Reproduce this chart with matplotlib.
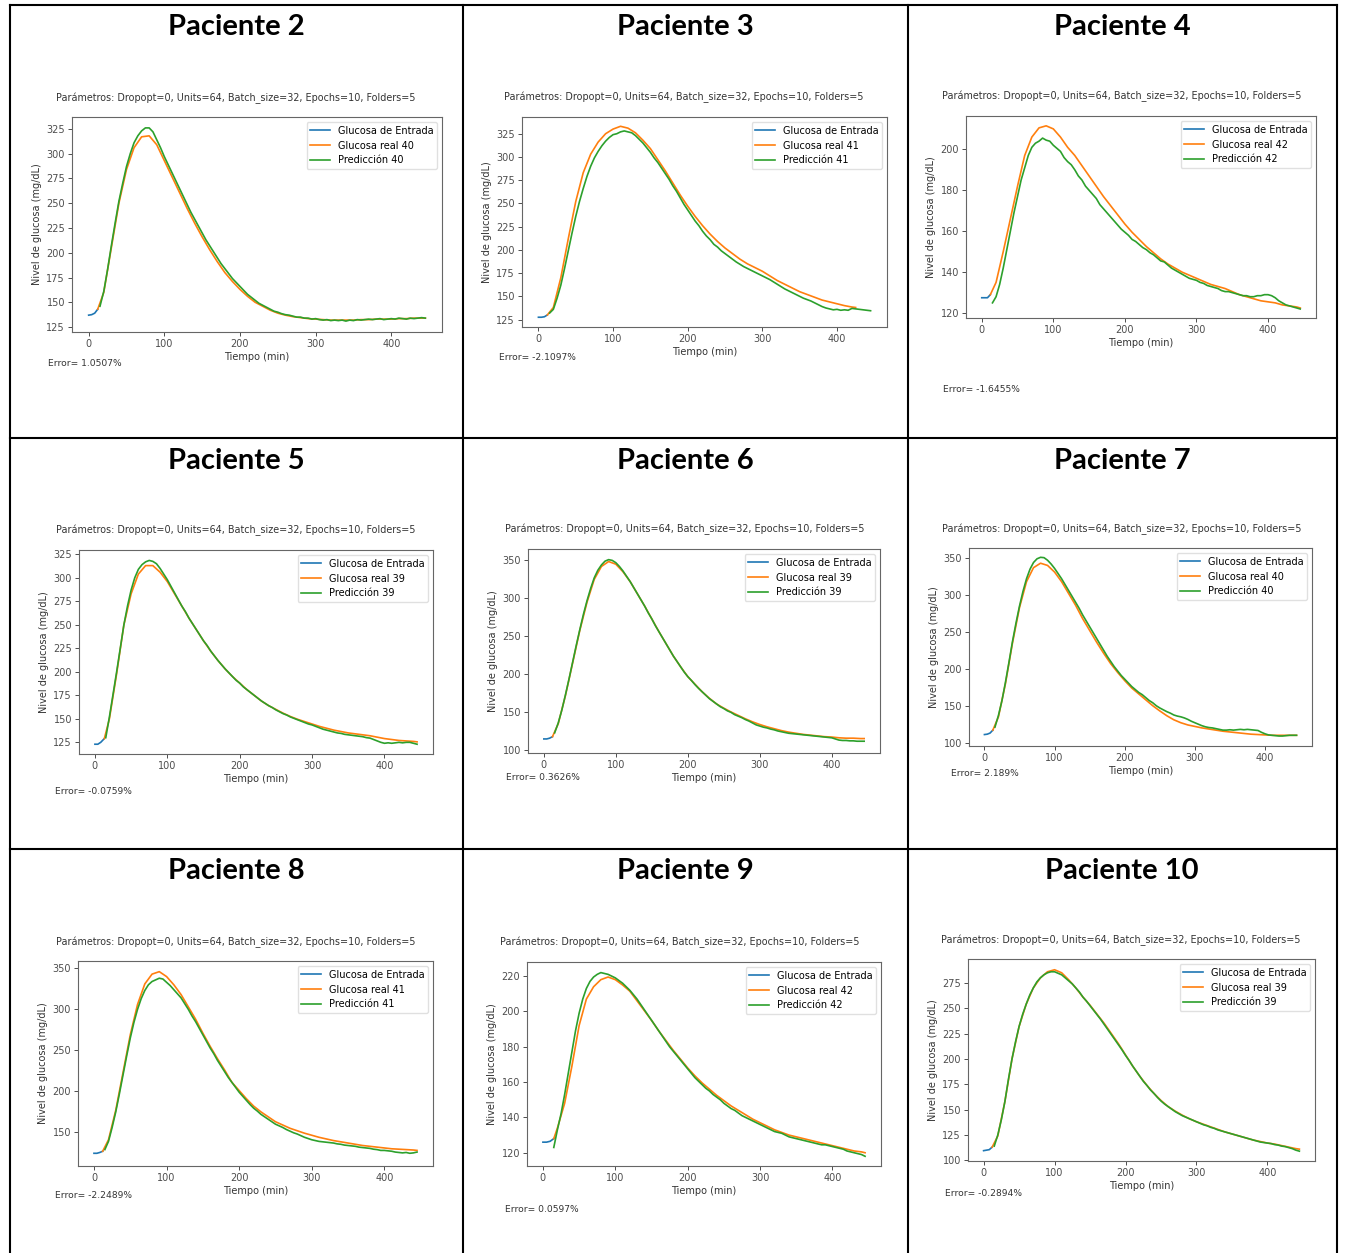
import numpy as np
import matplotlib.pyplot as plt
import matplotlib.ticker as ticker
from matplotlib.lines import Line2D

W, H = 1345, 1253

# ---------------- data (mg/dL) ----------------
patients = ["Paciente 2", "Paciente 3", "Paciente 4",
            "Paciente 5", "Paciente 6", "Paciente 7",
            "Paciente 8", "Paciente 9", "Paciente 10"]
series_ids = [40, 41, 42, 39, 39, 40, 41, 42, 39]
errors = ["1.0507%", "-2.1097%", "-1.6455%",
          "-0.0759%", "0.3626%", "2.189%",
          "-2.2489%", "0.0597%", "-0.2894%"]
params = "Parámetros: Dropopt=0, Units=64, Batch_size=32, Epochs=10, Folders=5"

# input glucose (blue), short segment at the start
in_t = [[0, 4, 8, 12], [0, 4, 8, 12], [0, 4, 8, 12],
        [0, 4, 8, 13], [0, 4, 8, 12], [0, 4, 8, 12],
        [0, 4, 8, 12], [0, 5, 10, 15], [0, 4, 8, 12]]
in_p2 = [137, 137.5, 139, 143]
in_p3 = [127.5, 127.5, 128, 130]
in_p4 = [127.5, 127.5, 127.5, 129]
in_p5 = [123, 123, 125, 129]
in_p6 = [115, 115, 116, 118]
in_p7 = [111, 111.5, 113, 117]
in_p8 = [123.5, 123.5, 124.5, 126]
in_p9 = [126, 126, 126.5, 128]
in_p10 = [109.5, 110, 110.5, 113]

# real glucose (orange): start, then every 10 min from 20, then the end point
real_start = [12, 12, 12, 13, 12, 12, 12, 15, 12]
real_end = [445, 425, 445, 445, 445, 445, 445, 445, 445]
real_p2 = [143,
           160, 205, 250, 284, 306, 317, 318, 309, 293, 277,
           261, 245, 230, 216, 203, 191, 180, 171, 163, 156,
           150, 146, 142, 139, 137, 135.5, 134.5, 133.5, 133, 132.5,
           132, 132, 132, 132, 132.5, 132.5, 133, 133, 133, 133.5,
           133.5, 134, 134, 134]
real_p3 = [130,
           138, 170, 212, 252, 283, 303, 316, 325, 330, 333,
           331, 326, 318, 309, 297, 285, 272, 259, 247, 236,
           226, 217, 209, 202, 196, 190, 185, 181, 177, 172,
           167, 163, 159, 155, 152, 149, 146, 144, 142, 140,
           138.5, 138]
real_p4 = [129,
           135, 150, 166, 182, 197, 206, 210.5, 211.5, 210, 206,
           201, 197, 192, 187, 182, 177, 172.5, 168, 163.5, 159.5,
           156, 152.5, 149.5, 146.5, 144, 142, 140, 138.5, 137, 135.5,
           134, 133, 132, 130.5, 129, 128, 127, 126, 125.5, 125,
           124, 123.5, 123, 122.5]
real_p5 = [129,
           150, 198, 250, 283, 304, 313, 313, 306, 296, 283,
           270, 257, 245, 233, 222, 212, 203, 195, 188, 181,
           175, 169, 164, 160, 156, 152.5, 149.5, 147, 144.5, 142,
           140, 138, 136.5, 135, 134, 133, 132, 130.5, 129, 128,
           127, 126.5, 126, 125.5]
real_p6 = [118,
           135, 172, 215, 258, 295, 325, 342, 348.5, 345, 335,
           322, 306, 290, 273, 256, 240, 224, 210, 197, 187,
           177, 168.5, 161, 155.5, 150.5, 146, 141.5, 137.5, 134, 131,
           128.5, 126, 124, 122.5, 121, 120, 119, 118, 117.5, 116.5,
           116, 116, 115.5, 115.5]
real_p7 = [117,
           135, 180, 235, 283, 318, 337, 343, 340, 331, 318,
           302, 286, 268, 252, 236, 221, 207, 195, 184, 174,
           166, 158, 150, 143, 136.5, 131, 127, 124, 122, 120,
           118.5, 117, 115.5, 114.5, 113.5, 112.5, 111.5, 111, 110.5, 110,
           110, 110, 110, 110]
real_p8 = [126,
           140, 176, 222, 268, 305, 330, 342, 345, 339, 329,
           317, 302, 287, 270, 254, 239, 225, 210, 200, 190,
           181, 174, 168, 162, 158, 154, 151, 148, 145.5, 143,
           141, 139, 137.5, 136, 134.5, 133, 132, 131, 130, 129,
           128.5, 128, 127.5, 127]
real_p9 = [128,
           134, 148, 169, 192, 207, 214, 218, 219.5, 218, 215,
           211.5, 206, 200.5, 195, 189, 183.5, 178, 173, 168, 163.5,
           159.5, 156, 152.5, 149.5, 146.5, 144, 141.5, 139, 137, 135,
           133, 131.5, 130, 129, 128, 127, 126, 125, 124, 123,
           122, 121, 120.5, 120]
real_p10 = [113,
            124, 158, 200, 232, 254, 270, 280, 286, 288, 285,
            278, 270, 261, 253, 244, 235, 225, 215, 204, 193,
            183, 174, 166, 159, 153, 148.5, 144.5, 141, 138, 135.5,
            133, 130.5, 128, 126, 124, 122, 120, 118.5, 117, 116,
            114.5, 113, 111.5, 111]

# prediction (green): every 5 min from 15 to 445
pred_t = np.arange(15, 446, 5)
pred_p2 = [146, 161, 183, 207, 230, 252, 270, 287, 300, 311,
           318, 323, 326, 326, 322, 314, 306, 297, 289, 281,
           273, 265, 257, 249, 241, 234, 227, 220, 213, 207,
           201, 195, 189, 184, 179, 174, 170, 166, 162, 158,
           155, 152, 149, 147, 145, 143, 141, 140, 138.5, 137.5,
           137, 136, 135, 135, 134, 134, 133, 133.5, 132.5, 132,
           132.5, 131.5, 132, 131.5, 132, 131, 132, 131.5, 132.5, 132,
           132.5, 133, 132.5, 133, 133.5, 132.5, 133, 133.5, 133, 134,
           133.5, 133, 134, 133.5, 134, 134.5, 134]
pred_p3 = [132, 136, 148, 162, 180, 199, 218, 236, 252, 266,
           279, 290, 299, 306, 312, 317, 321, 324, 325, 327,
           328, 327, 326, 323, 319, 315, 310, 305, 299, 294,
           288, 282, 276, 269, 263, 256, 249, 243, 237, 231,
           226, 220, 215, 211, 206, 203, 199, 196, 193, 190,
           187, 184.5, 182, 180, 178, 176, 174, 172, 170, 168,
           165.5, 163, 160.5, 158, 156, 154, 152, 150, 148, 146.5,
           145, 143, 141, 139, 137.5, 136.5, 135.5, 136, 135, 135.5,
           135, 137, 136.5, 136, 135.5, 135, 134.5]
pred_p4 = [125, 128, 134, 142, 151, 160, 169, 177, 185, 191,
           197, 201, 203, 204, 205.5, 204.5, 204, 202, 200.5, 199,
           196, 194, 192.5, 190, 187, 185, 182, 180, 178, 176,
           173, 171, 169, 167, 165, 163, 161, 159.5, 158, 156,
           155, 153.5, 152, 151, 149.5, 148.5, 147, 145.5, 145, 143.5,
           142, 141, 140, 139, 138, 137, 136.5, 136, 135, 134.5,
           133.5, 133, 132.5, 132, 131, 130.5, 130.5, 130, 129.5, 129,
           128.5, 128.5, 128, 128, 128.5, 128.5, 129, 129, 128.5, 127.5,
           126, 125, 124, 123.5, 123, 122.5, 122]
pred_p5 = [130, 152, 176, 200, 225, 250, 270, 287, 300, 309,
           314, 317, 318.5, 317.5, 315, 310, 304, 298, 291, 284,
           277, 270, 264, 257, 251, 245, 239, 233, 228, 222,
           217, 212, 207.5, 203, 199, 195, 191, 188, 184, 181,
           178, 175, 172, 169, 166.5, 164, 162, 159.5, 157.5, 155.5,
           154, 152, 150.5, 149, 147.5, 146, 144.5, 143.5, 142, 140.5,
           139, 138, 137, 136, 135, 134.5, 133.5, 133, 132.5, 132,
           131.5, 131, 130, 129.5, 128, 126.5, 125, 124, 124.5, 124,
           124.5, 125, 124.5, 125, 125, 124, 123]
pred_p6 = [123, 136, 153, 173, 194, 216, 238, 259, 279, 297,
           313, 327, 337, 344, 349, 351, 350, 347, 342, 336,
           329, 322, 314, 306, 298, 290, 281, 273, 264, 256,
           248, 240, 232, 224, 217, 210, 203, 197, 192, 186.5,
           181.5, 177, 172.5, 168, 164.5, 161, 157.5, 155, 152, 150,
           147, 145, 143, 140.5, 138.5, 136, 133.5, 132, 130.5, 129.5,
           128, 127, 125.5, 124.5, 123.5, 122.5, 122, 121.5, 121, 120.5,
           120, 119.5, 119, 118.5, 118, 117.5, 117, 116.5, 115, 113.5,
           113, 113, 112.5, 112.5, 112, 112, 112]
pred_p7 = [121, 137, 157, 182, 209, 237, 262, 285, 305, 322,
           335, 344, 349, 351, 350.5, 347, 342, 336, 329, 322,
           314, 306, 298, 290, 282, 273, 265, 257, 249, 241,
           233, 225, 217, 210, 203, 197, 191, 186, 181, 176,
           172, 168, 165, 161, 157, 154, 150, 147, 144.5, 142,
           140, 137.5, 136, 135, 133.5, 131.5, 129, 127, 125, 123,
           121.5, 120.5, 120, 119, 118, 117, 117, 117.5, 117, 117.5,
           118, 117.5, 118, 117.5, 117, 116.5, 114, 112, 110.5, 110,
           109.5, 109, 109, 109.5, 110, 110, 110]
pred_p8 = [128, 138, 155, 174, 196, 219, 242, 264, 283, 299,
           312, 322, 329, 333, 335, 337, 336, 332, 328, 323,
           318, 313, 306, 299, 291, 284, 276, 268, 260, 252,
           245, 237, 230, 223, 216, 210, 204, 198, 193, 188,
           183, 178.5, 175, 171, 168, 165, 162, 159, 157, 155,
           152.5, 150.5, 148.5, 147, 145, 143, 141.5, 140, 139, 138,
           137.5, 137, 136.5, 136, 135, 134.5, 133.5, 133, 132.5, 132,
           131, 130.5, 130, 129.5, 128.5, 128, 127, 127, 126.5, 126,
           125, 124.5, 124, 124.5, 123.5, 124, 125]
pred_p9 = [123, 133, 142, 153, 165, 177, 189, 199, 207, 213,
           217, 219.5, 221, 222, 221.5, 221, 220, 219, 217.5, 216,
           214, 212, 209.5, 207, 204, 201, 198, 195, 192, 189,
           186, 183, 180, 177.5, 175, 172.5, 170, 167.5, 165, 162.5,
           160.5, 158.5, 156.5, 155, 153, 151.5, 150, 148, 146.5, 145,
           144, 142.5, 141, 140, 139, 138, 137, 136, 135, 134,
           133, 132, 131.5, 131, 130, 129, 128.5, 128, 127.5, 127,
           126.5, 126, 125.5, 125, 124.5, 124.5, 124, 123.5, 123, 122.5,
           122, 121, 120.5, 120, 119.5, 119, 118]
pred_p10 = [114, 125, 140, 158, 180, 200, 217, 232, 244, 254,
            263, 270, 276, 280, 283, 285, 286, 286, 284.5, 283,
            280, 277, 274, 270, 266, 261, 257, 252.5, 248, 243.5,
            239, 234, 229, 224, 219, 214, 209, 203.5, 198.5, 193,
            188, 183, 178, 174, 169.5, 166, 162, 158.5, 155.5, 153,
            150.5, 148, 146, 144, 142.5, 141, 139.5, 138, 136.5, 135,
            134, 132.5, 131.5, 130, 129, 128, 127, 126, 125, 124,
            123, 122, 121, 120, 119, 118, 117.5, 117, 116.5, 115.5,
            115, 114, 113.5, 112.5, 111.5, 110, 109]

inputs = [in_p2, in_p3, in_p4, in_p5, in_p6, in_p7, in_p8, in_p9, in_p10]
reals = [real_p2, real_p3, real_p4, real_p5, real_p6, real_p7, real_p8, real_p9, real_p10]
preds = [pred_p2, pred_p3, pred_p4, pred_p5, pred_p6, pred_p7, pred_p8, pred_p9, pred_p10]

# y ranges and tick steps as they appear in each screenshot
y_lims = [(120, 337), (117, 343), (117.6, 216.3),
          (112.6, 329.6), (96.5, 365), (95.5, 363.6),
          (108, 358), (112.5, 228), (99.3, 298.6)]
y_steps = [25, 25, 20, 25, 50, 50, 50, 20, 25]

# ---------------- layout (pixel boxes: left, right, top, bottom) ----------------
ax_boxes = [(72, 442, 117, 332), (522, 887, 117, 327), (966, 1316, 116, 318),
            (79, 433, 550, 754), (528, 880, 549, 753), (969, 1312, 548, 746),
            (78, 433, 961, 1166), (527, 881, 962, 1166), (968, 1315, 959, 1161)]
param_pos = [(236, 98), (684, 97), (1122, 96),
             (236, 530), (685, 529), (1122, 529),
             (236, 942), (680, 942), (1121, 940)]
error_pos = [(48, 363), (499, 357), (943, 390),
             (55, 791), (506, 778), (951, 774),
             (55, 1196), (505, 1210), (945, 1193)]
col_x = [236, 685, 1122]
row_y = [27, 461, 871]

fig = plt.figure(figsize=(W / 100, H / 100), dpi=100)


def fx(x):
    return x / W


def fy(y):
    return 1 - y / H


# table lines
lw_tab = 1.5
for x in [10, 463, 908, 1337]:
    fig.add_artist(Line2D([fx(x), fx(x)], [fy(5), fy(1253)], color='black', lw=lw_tab))
for y in [5, 438, 849]:
    fig.add_artist(Line2D([fx(10), fx(1337)], [fy(y), fy(y)], color='black', lw=lw_tab))

for i in range(9):
    r, c = divmod(i, 3)
    fig.text(fx(col_x[c]), fy(row_y[r]), patients[i], ha='center', va='center',
             fontsize=21, fontweight='bold', family='Lato')

    l, rr, t, b = ax_boxes[i]
    ax = fig.add_axes([fx(l), fy(b), (rr - l) / W, (b - t) / H])

    rt = [real_start[i]] + list(range(20, real_end[i] - 4, 10)) + [real_end[i]]
    ax.plot(in_t[i], inputs[i], color='#1f77b4', lw=1.2, label='Glucosa de Entrada')
    ax.plot(rt, reals[i], color='#ff7f0e', lw=1.2, label=f'Glucosa real {series_ids[i]}')
    ax.plot(pred_t, preds[i], color='#2ca02c', lw=1.2, label=f'Predicción {series_ids[i]}')

    ax.set_xlim(-22, 467)
    ax.set_ylim(*y_lims[i])
    ax.yaxis.set_major_locator(ticker.MultipleLocator(y_steps[i]))
    ax.xaxis.set_major_locator(ticker.MultipleLocator(100))

    ax.set_xlabel('Tiempo (min)', fontsize=7, color='0.2', labelpad=2)
    ax.set_ylabel('Nivel de glucosa (mg/dL)', fontsize=7, color='0.2', labelpad=3)
    ax.tick_params(labelsize=7, length=3, width=0.7, colors='0.3', pad=2)
    for sp in ax.spines.values():
        sp.set_color('0.4')
        sp.set_linewidth(0.8)
    ax.legend(loc='upper right', fontsize=7, framealpha=0.8, edgecolor='0.85')

    px, py = param_pos[i]
    fig.text(fx(px), fy(py), params, ha='center', va='center', fontsize=6.9, color='0.2')
    ex, ey = error_pos[i]
    fig.text(fx(ex), fy(ey), 'Error= ' + errors[i], ha='left', va='center',
             fontsize=6.6, color='0.2')

fig.savefig('out.png', dpi=100, facecolor='white')
